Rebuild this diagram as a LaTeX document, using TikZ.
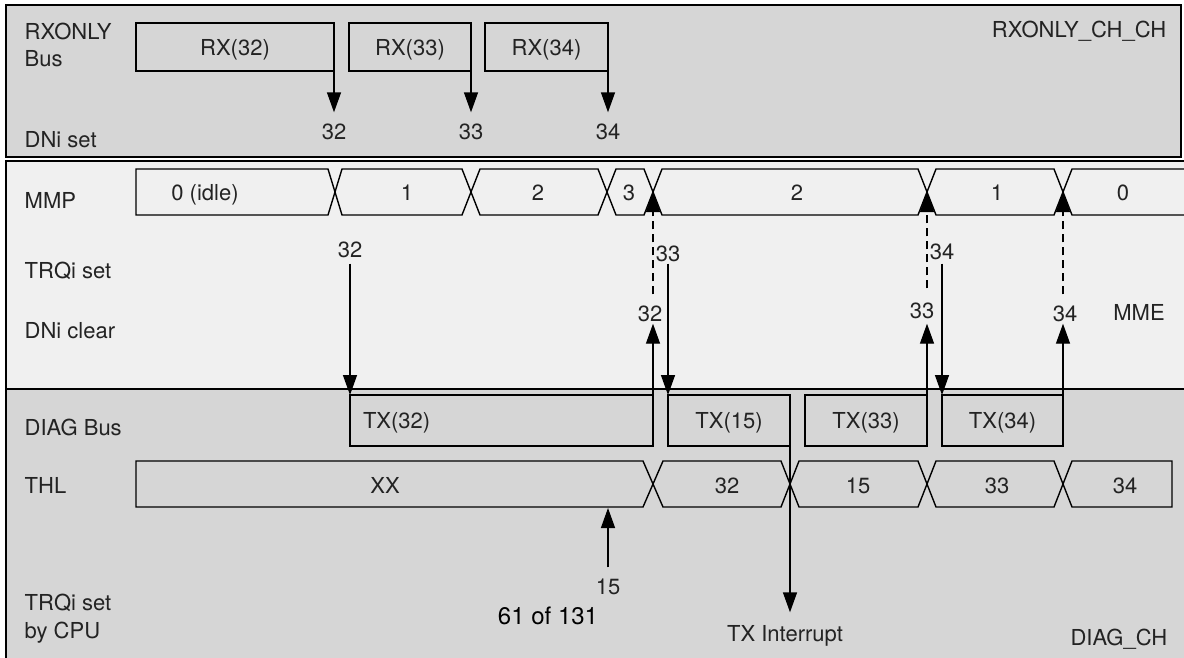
\documentclass[tikz,border=0pt]{standalone}
\usepackage{fontspec}
\setmainfont{TeX Gyre Heros}
\usetikzlibrary{arrows.meta}
\definecolor{panel}{RGB}{214, 214, 214}
\definecolor{mmepanel}{RGB}{240, 240, 240}
\definecolor{ink}{RGB}{35, 35, 35}

\tikzset{
  lbl/.style={inner sep=0pt, text height=16pt, text depth=0pt, text=ink,
    font=\fontsize{22}{26}\selectfont},
  msgbox/.style={draw, lbl, outer sep=0pt},
  evarrow/.style={-{Triangle[length=20pt, width=14pt]}},
  clrdash/.style={dash pattern=on 8pt off 5pt}
}

\begin{document}
\begin{tikzpicture}[x=1pt, y=-1pt, line width=1.4pt]

  \useasboundingbox (0,0) rectangle (1184,657);

  % panels
  \fill[panel] (6,5) rectangle (1181,157);
  \draw (6,5) rectangle (1181,157);
  \fill[mmepanel] (6,161) rectangle (1190,389);
  \fill[panel] (6,389) rectangle (1190,670);
  \draw (1190,161) -- (6,161) -- (6,670);
  \draw (6,389) -- (1190,389);

  % RXONLY channel
  \node[lbl, anchor=west] (rxname) at (24,31) {RXONLY};
  \node[lbl, anchor=west] (rxbus) at (24,58) {Bus};
  \node[lbl, anchor=west] (dnset) at (24,139) {DNi set};
  \node[lbl, anchor=east] (rxch) at (1167,29) {RXONLY\_CH\_CH};

  \node[msgbox, minimum width=198pt, minimum height=48pt] (rx32) at (235,47) {RX(32)};
  \node[msgbox, minimum width=122pt, minimum height=48pt] (rx33) at (410,47) {RX(33)};
  \node[msgbox, minimum width=123pt, minimum height=48pt] (rx34) at (546.5,47) {RX(34)};

  \node[lbl] (dn32) at (334,131) {32};
  \node[lbl] (dn33) at (471,131) {33};
  \node[lbl] (dn34) at (608,131) {34};

  \foreach \n in {32, 33, 34} {
    \draw[evarrow, shorten >=10pt] (rx\n.south east) -- (rx\n.south east |- dn\n.north);
  }

  % MME
  \node[lbl, anchor=west] (mmpname) at (24,200) {MMP};
  \node[lbl, anchor=west] (trqset) at (24,270) {TRQi set};
  \node[lbl, anchor=west] (dnclear) at (24,330) {DNi clear};
  \node[lbl] (mme) at (1139,312) {MME};

  \foreach \a/\b/\ha/\hb/\c/\txt [count=\i] in {136/335/0/7/205/0 (idle), 335/471/7/9/407/1,
      471/607/9/9/538/2, 607/653/9/9/629/3, 653/927/9/9/797/2, 927/1063/9/9/997/1,
      1063/1210/9/9/1123/0} {
    \draw (\a,192) -- (\a+\ha,169) -- (\b-\hb,169) -- (\b,192) -- (\b-\hb,215) -- (\a+\ha,215) -- cycle;
    \node[lbl] (mmp\i) at (\c,192) {\txt};
    \coordinate (mend\i) at (\b,192);
  }

  % DIAG channel
  \node[lbl, anchor=west] (diagbus) at (24,427) {DIAG Bus};
  \node[lbl, anchor=west] (thlname) at (24,485) {THL};
  \node[lbl, anchor=west] (cpuset) at (24,602) {TRQi set};
  \node[lbl, anchor=west] (cpuby) at (24,630) {by CPU};
  \node[lbl, anchor=east] (diagch) at (1168,637) {DIAG\_CH};

  \node[msgbox, minimum width=303pt, minimum height=51pt, text width=277pt, align=left]
    (tx32) at (501.5,420.5) {TX(32)};
  \node[msgbox, minimum width=122pt, minimum height=51pt] (tx15) at (729,420.5) {TX(15)};
  \node[msgbox, minimum width=122pt, minimum height=51pt] (tx33) at (866,420.5) {TX(33)};
  \node[msgbox, minimum width=121pt, minimum height=51pt] (tx34) at (1002.5,420.5) {TX(34)};

  \foreach \a/\b/\ha/\hb/\c/\txt [count=\i] in {136/653/0/10/385/XX, 653/790/10/9/727/32,
      790/927/9/9/858/15, 927/1063/9/9/997/33, 1063/1172/9/0/1125/34} {
    \draw (\a,484) -- (\a+\ha,461) -- (\b-\hb,461) -- (\b,484) -- (\b-\hb,507) -- (\a+\ha,507) -- cycle;
    \node[lbl] (thl\i) at (\c,485) {\txt};
  }
  \coordinate (thlbase) at (136,508);

  % TRQi set
  \node[lbl] (trq32) at (350,249) {32};
  \node[lbl] (trq33) at (668,253) {33};
  \node[lbl] (trq34) at (942,251) {34};
  \draw[evarrow, shorten <=6pt] (trq32.south) -- (tx32.north west);
  \draw[evarrow, shorten <=2pt] (trq33.south) -- (tx15.north west);
  \draw[evarrow, shorten <=4pt] (trq34.south) -- (tx34.north west);

  % DNi clear
  \node[lbl] (dcl32) at (650,313) {32};
  \node[lbl] (dcl33) at (922,310) {33};
  \node[lbl] (dcl34) at (1065,313) {34};
  \draw[evarrow, shorten >=2pt] (tx32.north east) -- (tx32.north east |- dcl32.south);
  \draw[evarrow, shorten >=5pt] (tx33.north east) -- (tx33.north east |- dcl33.south);
  \draw[evarrow, shorten >=2pt] (tx34.north east) -- (tx34.north east |- dcl34.south);
  \draw[evarrow, clrdash, shorten <=10pt] (mend4 |- dcl32.north) -- (mend4);
  \draw[evarrow, clrdash, shorten <=13pt] (mend5 |- dcl33.north) -- (mend5);
  \draw[evarrow, clrdash, shorten <=10pt] (mend6 |- dcl34.north) -- (mend6);

  % CPU request and interrupt
  \node[lbl] (cpu15) at (608,586) {15};
  \node[lbl, font=\fontsize{24}{28}\selectfont, text=black] (page) at (548,616) {61 of 131};
  \draw[evarrow, shorten <=10pt] (cpu15.north) -- (cpu15.north |- thlbase);
  \node[lbl] (txint) at (785,633) {TX Interrupt};
  \draw[evarrow, shorten >=12pt] (tx15.north east) -- (tx15.north east |- txint.north);

\end{tikzpicture}
\end{document}
